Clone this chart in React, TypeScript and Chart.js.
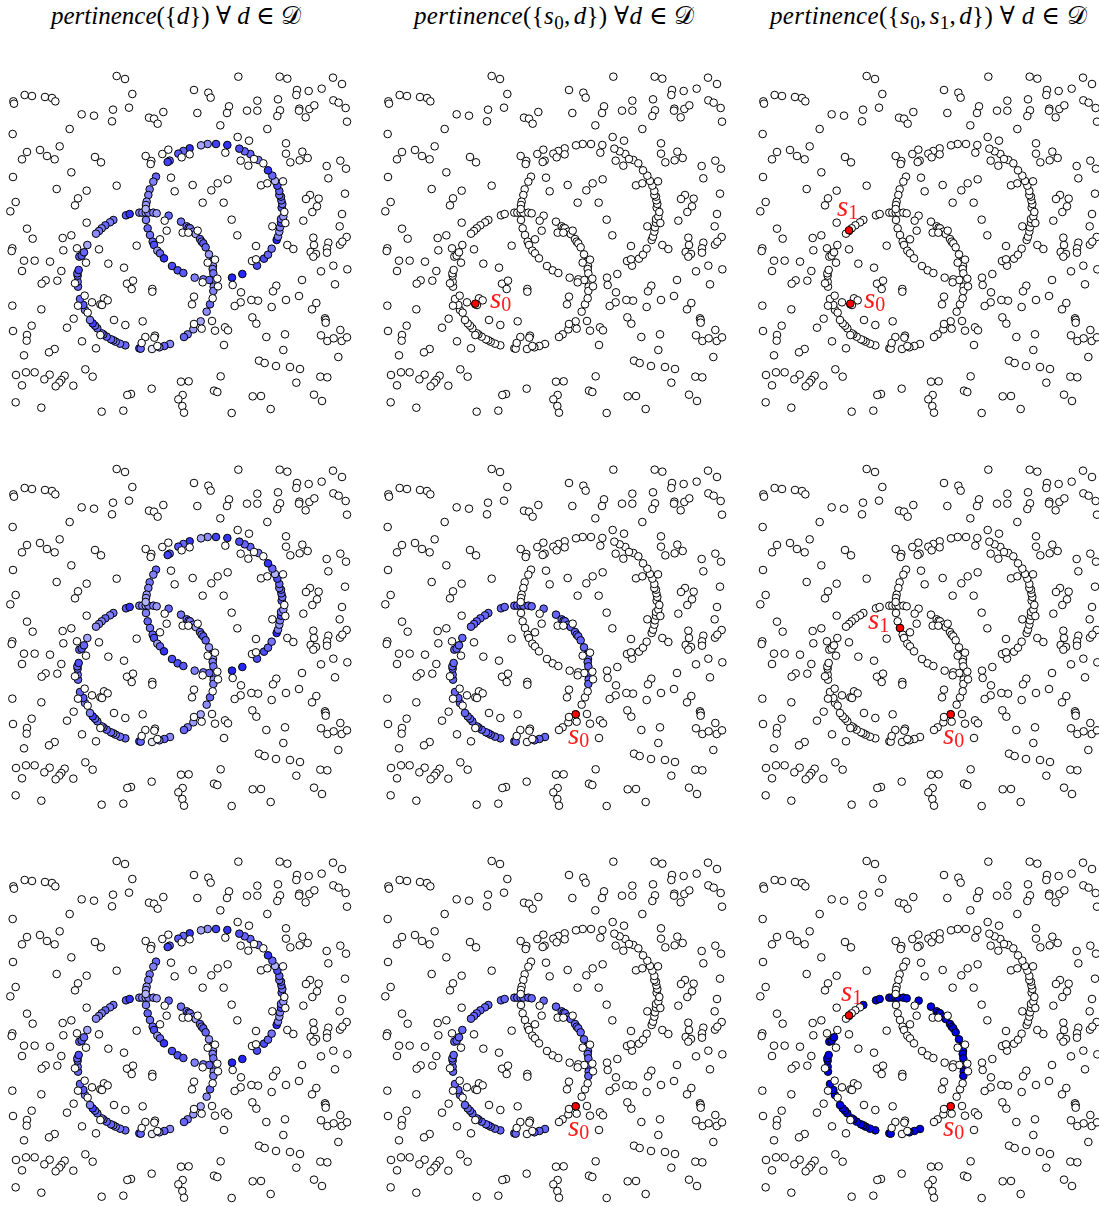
import React, { useEffect, useRef } from "react";
import { Chart, registerables } from "chart.js";

Chart.register(...registerables);

type P = number[];

// Background points, read quadrant by quadrant (units: 1/3 of a panel pixel)
const noiseNW: P[] = [[350,33],[375,42],[397,87],[387,128],[339,134],[336,169],[490,141],[447,158],[462,161],[473,176],[74,90],[96,93],[135,96],[156,99],[166,109],[40,109],[42,116],[245,148],[282,152],[209,192],[38,207],[179,244],[120,255],[141,273],[164,283],[81,261],[66,283],[285,276],[303,292],[214,322],[39,336],[170,372],[260,377],[350,362],[234,400],[225,421],[47,411],[31,439],[260,473],[81,491],[98,521],[188,519],[214,511],[437,273],[454,288],[452,297],[487,267],[505,254],[513,338],[524,379],[494,467],[500,497],[480,523]];
const noiseNE: P[] = [[175,35],[299,35],[322,41],[459,38],[486,57],[42,75],[85,83],[92,98],[351,75],[349,90],[386,78],[425,71],[232,107],[294,103],[147,124],[141,144],[52,144],[201,137],[232,137],[300,136],[292,153],[358,131],[357,137],[388,132],[403,121],[377,157],[460,106],[476,113],[497,129],[501,170],[121,181],[262,192],[173,216],[207,227],[136,263],[29,268],[5,277],[318,235],[318,266],[367,260],[383,279],[359,286],[331,292],[182,287],[205,302],[222,282],[250,295],[440,303],[481,287],[498,311],[445,340],[143,343],[113,355],[94,376],[38,360],[243,361],[262,355],[309,349],[495,386],[390,390],[378,402],[416,401],[411,424],[397,441],[68,413],[131,413],[486,447],[313,441],[155,464],[370,467],[316,474],[277,484],[479,484],[172,511],[8,503],[25,503],[53,497],[400,518],[500,516]];
const noiseSW: P[] = [[37,25],[35,33],[190,31],[231,25],[297,28],[410,17],[72,62],[104,62],[150,65],[66,93],[184,93],[258,68],[325,71],[372,83],[172,122],[137,121],[125,131],[225,130],[381,131],[399,122],[395,147],[457,147],[457,155],[254,167],[276,187],[312,175],[323,181],[301,193],[306,195],[37,197],[124,208],[234,197],[263,218],[221,236],[342,240],[376,255],[428,244],[201,263],[95,257],[39,273],[81,285],[80,302],[246,304],[436,291],[465,287],[463,293],[425,309],[472,318],[301,285],[288,325],[164,327],[147,337],[72,346],[256,388],[278,410],[48,405],[78,397],[104,397],[149,404],[133,418],[194,407],[184,420],[178,428],[167,439],[220,437],[66,436],[455,446],[393,462],[382,465],[47,487],[124,503],[305,515],[370,512]];
const noiseSE: P[] = [[228,18],[322,15],[340,27],[402,15],[445,8],[441,25],[441,38],[392,36],[408,42],[400,50],[480,14],[487,5],[216,63],[228,58],[83,68],[105,59],[460,77],[423,94],[502,88],[366,120],[465,133],[112,116],[114,139],[68,127],[158,135],[289,137],[279,154],[183,157],[42,170],[36,193],[357,168],[318,180],[234,182],[214,180],[182,187],[164,198],[98,175],[275,201],[409,189],[396,208],[217,232],[229,251],[435,235],[437,240],[437,248],[96,243],[42,252],[65,266],[105,272],[135,262],[144,271],[259,291],[315,283],[423,286],[442,303],[461,295],[481,270],[485,303],[501,292],[132,315],[310,330],[475,351],[237,362],[254,369],[288,378],[330,381],[360,387],[122,409],[421,410],[442,412],[349,428],[3,425],[26,424],[102,452],[112,456],[8,465],[-5,478],[218,469],[243,468],[402,464],[426,483],[7,498],[12,518],[155,519],[272,507]];

// Lower-left ring: x, y, pertinence
const ringLeftCore: P[] = [[340,465,.55],[378,451,.65],[389,447,.8],[418,443,.5],[427,443,.45],[437,443,.4],[445,443,.5],[460,443,.5],[470,445,.4],[506,452,.6],[543,470,.55],[560,484,.55],[566,488,.5],[570,490,.55],[580,500,.5],[587,507,.35],[600,522,.6],[605,530,.5],[610,535,.65],[617,547,.6],[627,568,.4],[636,590,.5],[639,603,.45],[638,612,.5],[640,625,.55],[640,650,.5],[641,665,.45],[640,678,.5],[510,837,.45],[493,843,.6],[478,847,.5],[418,850,.7],[422,851,.6],[376,841,.6],[360,836,.55],[347,830,.5],[340,826,.55],[333,823,.6],[320,815,.6],[310,808,.5],[305,805,.55],[292,790,.6],[285,782,.6],[278,775,.75],[270,765,.5],[255,735,.5],[250,720,.65],[240,702,.6],[234,665,.6],[233,650,.55],[233,632,.6],[232,625,.6],[236,615,.7],[238,575,.6],[245,572,.65],[252,562,.6]];
const ringLeftNearS1: P[] = [[330,472,.5],[316,481,.6],[305,490,.5],[297,498,.5],[288,506,.45],[262,540,.35]];
const ringLeftNearS0: P[] = [[630,718,.6],[620,740,.45],[602,769,.35],[580,793,.4],[563,808,.5],[552,816,.6],[456,852,.08]];

// Upper-right ring: x, y, pertinence
const ringRight: P[] = [[468,335,.6],[460,350,.5],[449,373,.55],[445,390,.5],[440,410,.4],[438,420,.4],[437,432,.3],[438,465,.5],[443,490,.6],[450,510,.55],[458,530,.6],[462,540,.7],[472,557,.4],[480,565,.6],[492,580,.8],[516,603,.7],[533,616,.7],[550,624,.65],[584,638,.5],[610,643,.55],[628,645,.6],[696,638,.85],[727,627,.85],[771,602,.7],[792,581,.7],[804,569,.6],[815,551,.55],[830,525,.85],[834,515,.5],[838,500,.4],[840,487,.5],[843,473,.7],[843,462,.55],[850,455,.4],[845,428,.65],[847,417,.55],[844,406,.6],[843,395,.6],[838,390,.55],[838,378,.6],[832,362,.7],[825,348,.3],[817,332,.6],[804,316,.8],[775,285,.5],[751,267,.6],[734,259,.6],[718,251,.7],[682,240,.8],[648,237,.75],[623,237,.45],[603,241,.35],[569,250,.8],[550,258,.6],[535,266,.65],[509,287,.6],[503,291,.75]];

const seedFar: P = [301, 716];
const seedOnRing: P = [602, 769];
const secondOnArc: P = [297, 496];
const secondOnCross: P = [450, 510];

const titles = ["d", "s0,d", "s0,s1,d"];

const shift = (list: P[], dx: number, dy: number): P[] => list.map((p) => [p[0] + dx, p[1] + dy]);
const noise: P[] = [...noiseNW, ...shift(noiseNE, 540, 0), ...shift(noiseSW, 0, 525), ...shift(noiseSE, 540, 525)];

const tint = (p: number) => {
  const c = Math.round(255 * (1 - p));
  return `rgb(${c},${c},${p === 1 ? 230 : 255})`;
};

type Mode = "pert" | "white" | "left" | "leftStrong";
type Panel = {
  col: number; row: number; mode: Mode; red: P[];
  labels: { t: string; x: number; y: number }[];
};

const panels: Panel[] = [
  { col: 0, row: 0, mode: "pert", red: [], labels: [] },
  { col: 1, row: 0, mode: "white", red: [seedFar], labels: [{ t: "0", x: 490, y: 283 }] },
  { col: 2, row: 0, mode: "white", red: [seedFar, secondOnArc], labels: [{ t: "0", x: 864, y: 283 }, { t: "1", x: 837, y: 191 }] },
  { col: 0, row: 1, mode: "pert", red: [], labels: [] },
  { col: 1, row: 1, mode: "left", red: [seedOnRing], labels: [{ t: "0", x: 568, y: 719 }] },
  { col: 2, row: 1, mode: "white", red: [seedOnRing, secondOnCross], labels: [{ t: "0", x: 943, y: 719 }, { t: "1", x: 868, y: 604 }] },
  { col: 0, row: 2, mode: "pert", red: [], labels: [] },
  { col: 1, row: 2, mode: "left", red: [seedOnRing], labels: [{ t: "0", x: 568, y: 1111 }] },
  { col: 2, row: 2, mode: "leftStrong", red: [seedOnRing, secondOnArc], labels: [{ t: "0", x: 943, y: 1111 }, { t: "1", x: 841, y: 976 }] },
];

const PANEL = 360;
const panelLeft = (c: number) => c * 375;
const panelTop = (r: number) => 65 + Math.round(r * 392.5);

function PanelChart({ panel }: { panel: Panel }) {
  const ref = useRef<HTMLCanvasElement>(null);
  useEffect(() => {
    const groups = [ringLeftCore, ringLeftNearS1, ringLeftNearS0, ringRight];
    const pts = [...groups.flat(), ...noise];
    const colours: string[] = [];
    const fill = (list: P[], f: (p: P) => string) => list.forEach((p) => colours.push(f(p)));
    const m = panel.mode;
    fill(ringLeftCore, (p) => m === "pert" ? tint(p[2]) : m === "left" ? tint(0.6) : m === "leftStrong" ? tint(1) : "#fff");
    fill(ringLeftNearS1, (p) => m === "pert" ? tint(p[2]) : m === "left" ? tint(0.6) : "#fff");
    fill(ringLeftNearS0, (p) => m === "pert" ? tint(p[2]) : "#fff");
    fill(ringRight, (p) => m === "pert" ? tint(p[2]) : "#fff");
    fill(noise, () => "#fff");
    const chart = new Chart(ref.current!, {
      type: "scatter",
      data: {
        datasets: [
          {
            data: panel.red.map((p) => ({ x: p[0], y: p[1] })),
            backgroundColor: "#ff0000", borderColor: "#000", borderWidth: 1, pointRadius: 3.8,
          },
          {
            data: pts.map((p) => ({ x: p[0], y: p[1] })),
            backgroundColor: colours, borderColor: "#000", borderWidth: 1, pointRadius: 3.8,
          },
        ],
      },
      options: {
        animation: false, responsive: false, devicePixelRatio: 1,
        layout: { padding: 0, autoPadding: false },
        plugins: { legend: { display: false }, tooltip: { enabled: false } },
        scales: {
          x: { display: false, min: 0, max: PANEL * 3 },
          y: { display: false, min: 0, max: PANEL * 3, reverse: true },
        },
      },
    });
    return () => chart.destroy();
  }, [panel]);
  return (
    <canvas ref={ref} width={PANEL} height={PANEL}
      style={{ position: "absolute", left: panelLeft(panel.col), top: panelTop(panel.row), width: PANEL, height: PANEL }} />
  );
}

const serif = '"Liberation Serif", "DejaVu Serif", serif';

function Title({ left, inner, spaced, track }: { left: number; inner: React.ReactNode; spaced: boolean; track: number }) {
  return (
    <div style={{ position: "absolute", left, top: 1, fontFamily: serif, fontSize: 25, letterSpacing: track, lineHeight: "30px", whiteSpace: "nowrap", color: "#000" }}>
      <i>pertinence</i>({"{"}{inner}{"}"}) ∀{spaced ? " " : ""}<i>d</i> ∈ 𝒟
    </div>
  );
}

const sub = (t: string) => <sub style={{ fontSize: 19, verticalAlign: "-5px", lineHeight: 0 }}>{t}</sub>;

export default function App() {
  return (
    <div style={{ position: "absolute", left: 0, top: 0, width: 1099, height: 1207, overflow: "hidden", background: "#fff" }}>
      <Title left={51} spaced track={0} inner={<i>{titles[0]}</i>} />
      <Title left={414} spaced={false} track={0.35} inner={<><i>s</i>{sub("0")},<span style={{ marginLeft: 3 }} /><i>d</i></>} />
      <Title left={770} spaced track={0.35} inner={<><i>s</i>{sub("0")},<span style={{ marginLeft: 3 }} /><i>s</i>{sub("1")},<span style={{ marginLeft: 3 }} /><i>d</i></>} />
      {panels.map((p, i) => <PanelChart key={i} panel={p} />)}
      {panels.flatMap((p) => p.labels.map((l, j) => (
        <div key={`${p.col}-${p.row}-${j}`} style={{ position: "absolute", left: l.x, top: l.y, color: "#ff1a1a", fontFamily: serif, fontSize: 29, lineHeight: "30px", whiteSpace: "nowrap" }}>
          <i>s</i><span style={{ fontSize: 20, position: "relative", top: 3 }}>{l.t}</span>
        </div>
      )))}
    </div>
  );
}
